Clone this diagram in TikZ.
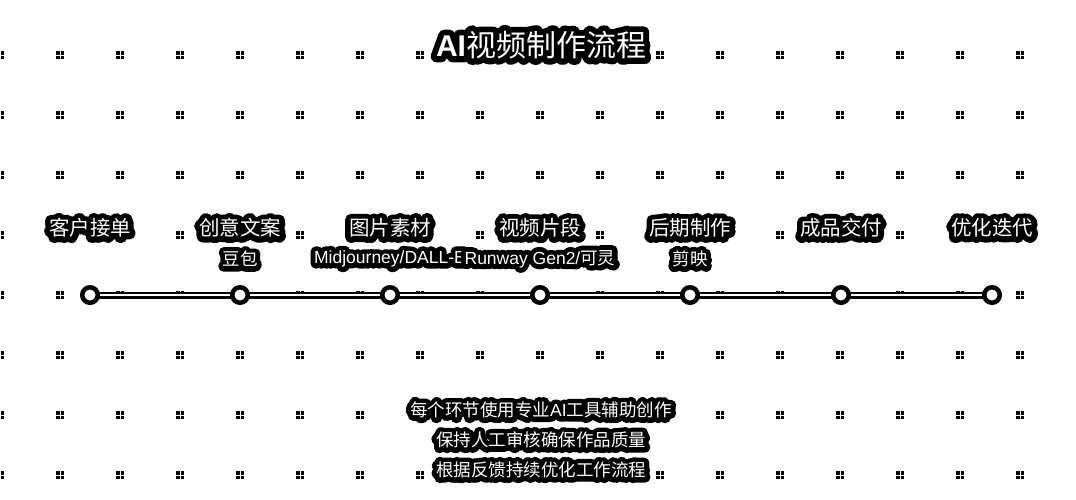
\documentclass[tikz,border=0pt]{standalone}
\usepackage{fontspec}
\setmainfont{Noto Sans CJK SC}
\newfontfamily\lat{Liberation Sans}
% white text with a black stroked halo behind it
\newcommand\halo[2]{%
  \rlap{\special{pdf:literal direct 2 Tr #1 w 1 j 1 J}\color{black}#2\special{pdf:literal direct 0 Tr}}%
  {\color{white}#2}}
\tikzset{
  gdot/.pic={
    \fill[black] (-4.2,-4.2) rectangle (-0.5,-0.5);
    \fill[black] (0.5,-4.2) rectangle (4.2,-0.5);
    \fill[black] (-4.2,0.5) rectangle (-0.5,4.2);
    \fill[black] (0.5,0.5) rectangle (4.2,4.2);
  },
  txt/.style={inner sep=0pt, anchor=center},
  titletxt/.style={txt, font=\fontsize{30}{30}\selectfont},
  stagetxt/.style={txt, font=\fontsize{20.5}{20.5}\selectfont},
  subtxt/.style={txt, font=\fontsize{17.5}{17.5}\selectfont},
  notetxt/.style={txt, font=\fontsize{17.5}{17.5}\selectfont},
  stagecirc/.style={circle, draw=black, fill=white, line width=4.5pt, minimum size=15.5pt, inner sep=0pt},
  timeline/.style={draw=black, line width=2.5pt, double=white, double distance=2pt},
}
\begin{document}
\begin{tikzpicture}[x=1pt,y=-1pt]
\useasboundingbox[fill=white] (0,0) rectangle (1076,499);
% background dot grid
\foreach \i in {0,...,17}{
  \foreach \j in {0,...,7}{
    \pic at (\i*60, 55+\j*60) {gdot};
  }
}
% timeline
\coordinate (p1) at (90,295);
\coordinate (p2) at (240,295);
\coordinate (p3) at (390,295);
\coordinate (p4) at (540,295);
\coordinate (p5) at (690,295);
\coordinate (p6) at (841,295);
\coordinate (p7) at (992,295);
\draw[timeline] (p1) -- (p7);
\foreach \k in {1,...,7}{
  \node[stagecirc] (c\k) at (p\k) {};
}
% title
\node[titletxt] (title) at (541,45) {\halo{12}{{\lat\bfseries AI}视频制作流程}};
% stage labels
\node[stagetxt] (l1) at (90,228) {\halo{11}{客户接单}};
\node[stagetxt] (l2) at (240,228) {\halo{11}{创意文案}};
\node[stagetxt] (l3) at (390,228) {\halo{11}{图片素材}};
\node[stagetxt] (l4) at (540,228) {\halo{11}{视频片段}};
\node[stagetxt] (l5) at (690,228) {\halo{11}{后期制作}};
\node[stagetxt] (l6) at (841,228) {\halo{11}{成品交付}};
\node[stagetxt] (l7) at (992,228) {\halo{11}{优化迭代}};
% tool labels
\node[subtxt] (s2) at (240,259) {\halo{10}{豆包}};
\node[subtxt] (s3) at (390,259) {\halo{10}{{\lat Midjourney/DALL-E}}};
\node[subtxt] (s4) at (540,259) {\halo{10}{{\lat Runway Gen2/}可灵}};
\node[subtxt] (s5) at (690,259) {\halo{10}{剪映}};
% notes
\node[notetxt] (n1) at (541,410) {\halo{10}{每个环节使用专业{\lat AI}工具辅助创作}};
\node[notetxt] (n2) at (541,440) {\halo{10}{保持人工审核确保作品质量}};
\node[notetxt] (n3) at (541,470) {\halo{10}{根据反馈持续优化工作流程}};
\end{tikzpicture}
\end{document}
